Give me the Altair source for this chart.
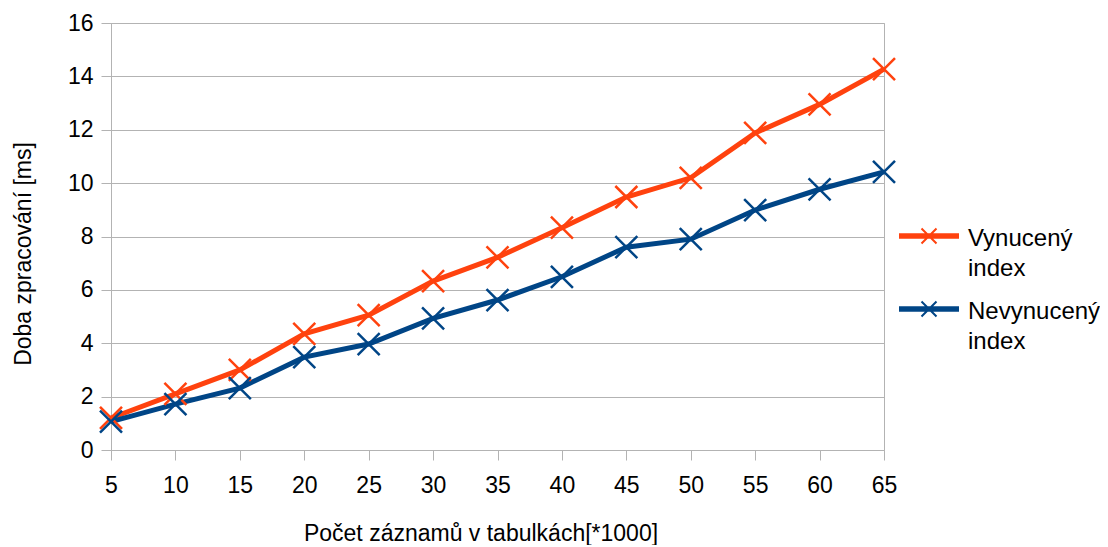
import altair as alt
import pandas as pd

x_values = [5, 10, 15, 20, 25, 30, 35, 40, 45, 50, 55, 60, 65]
vynuceny = [1.2, 2.1, 3.0, 4.35, 5.05, 6.33, 7.22, 8.33, 9.48, 10.2, 11.88, 12.95, 14.27]
nevynuceny = [1.06, 1.72, 2.32, 3.48, 3.97, 4.93, 5.62, 6.49, 7.6, 7.9, 8.99, 9.77, 10.42]
series_names = ["Vynucený index", "Nevynucený index"]
series_colors = ["#ff420e", "#004586"]

rows = []
for name, vals in zip(series_names, [vynuceny, nevynuceny]):
    for xv, yv in zip(x_values, vals):
        rows.append({"x": xv, "y": yv, "serie": name})
df = pd.DataFrame(rows)

FONT = "Liberation Sans"
X_PATH = "M-1,-1L1,1M-1,1L1,-1"
LEGEND_PATH = ("M-1,-0.16H1M-1,-0.1H1M-1,-0.04H1"
               "M-0.25,-0.35L0.25,0.15M-0.25,0.15L0.25,-0.35")

color = alt.Color(
    "serie:N",
    scale=alt.Scale(domain=series_names, range=series_colors),
    legend=alt.Legend(
        title=None,
        orient="none",
        legendX=787,
        legendY=185,
        symbolType=LEGEND_PATH,
        symbolSize=3600,
        symbolStrokeWidth=2,
        labelFont=FONT,
        labelFontSize=24,
        labelColor="#000000",
        labelLimit=400,
        labelOffset=8,
        labelExpr="split(datum.label, ' ')",
        rowPadding=0,
    ),
)

x_enc = alt.X(
    "x:Q",
    scale=alt.Scale(domain=[5, 65], nice=False, zero=False),
    axis=alt.Axis(
        values=x_values,
        title="Počet záznamů v tabulkách[*1000]",
        titleX=369.5,
        titleY=83,
        titleBaseline="middle",
        titleAlign="center",
        grid=False,
        tickSize=10,
        labelPadding=14,
        labelFlush=False,
    ),
)
y_enc = alt.Y(
    "y:Q",
    scale=alt.Scale(domain=[0, 16], nice=False),
    axis=alt.Axis(
        values=[0, 2, 4, 6, 8, 10, 12, 14, 16],
        title="Doba zpracování [ms]",
        titleX=-88,
        titleY=230.5,
        titleBaseline="middle",
        titleAlign="center",
        titleAngle=270,
        tickSize=10,
        labelPadding=8,
        labelFlush=False,
    ),
)

lines = alt.Chart(df).mark_line(strokeWidth=5).encode(x=x_enc, y=y_enc, color=color)
points = alt.Chart(df).mark_point(
    shape=X_PATH, size=484, filled=False, strokeWidth=2.5, opacity=1
).encode(x=x_enc, y=y_enc, color=color)

chart = (
    alt.layer(lines, points)
    .properties(
        width=773,
        height=427,
        autosize=alt.AutoSizeParams(type="none"),
        padding={"left": 103, "top": 15, "right": 216, "bottom": 95},
    )
    .configure(style={"guide-label": {"lineHeight": 30}})
    .configure_view(stroke="#b3b3b3", strokeWidth=1)
    .configure_axis(
        labelFont=FONT,
        titleFont=FONT,
        labelFontSize=23,
        titleFontSize=23,
        titleFontWeight="normal",
        labelColor="#000000",
        titleColor="#000000",
        domainColor="#b3b3b3",
        tickColor="#b3b3b3",
        gridColor="#b3b3b3",
        domainWidth=1,
        tickWidth=1,
        gridWidth=1,
    )
)

chart.save("out.html", embed_options={"renderer": "svg", "actions": False})
